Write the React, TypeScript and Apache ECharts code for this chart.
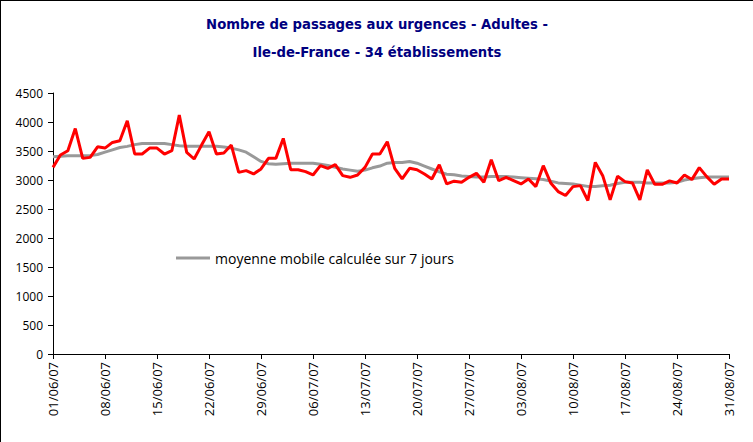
import React, { useEffect, useRef } from "react";
import * as echarts from "echarts";

const title1 = "Nombre de passages aux urgences - Adultes -";
const title2 = "Ile-de-France - 34 établissements";
const legendLabel = "moyenne mobile calculée sur 7 jours";

const startDay = { y: 2007, m: 5, d: 1 };
const dayCount = 92;

const daily: number[] = [
  3218, 3431, 3505, 3888, 3373, 3390, 3573, 3550, 3648, 3677,
  4020, 3448, 3448, 3550, 3550, 3448, 3505, 4118, 3476, 3362,
  3602, 3831, 3448, 3465, 3602, 3132, 3161, 3104, 3190, 3373,
  3373, 3716, 3178, 3178, 3144, 3087, 3247, 3201, 3264, 3075,
  3046, 3087, 3218, 3448, 3448, 3659, 3201, 3018, 3201, 3178,
  3104, 3018, 3264, 2932, 2980, 2960, 3046, 3115, 2960, 3350,
  2989, 3046, 2989, 2932, 3018, 2886, 3247, 2949, 2800, 2732,
  2886, 2903, 2646, 3304, 3075, 2657, 3064, 2972, 2949, 2657,
  3173, 2926, 2926, 2984, 2949, 3087, 3007, 3213, 3058, 2926,
  3018, 3018,
];

const movingAvg: number[] = [
  3400, 3410, 3420, 3420, 3420, 3420, 3440, 3480, 3520, 3560,
  3580, 3610, 3630, 3630, 3630, 3630, 3610, 3590, 3580, 3580,
  3580, 3580, 3580, 3570, 3550, 3520, 3480, 3400, 3320, 3280,
  3270, 3280, 3290, 3290, 3290, 3290, 3270, 3250, 3220, 3190,
  3170, 3150, 3170, 3210, 3240, 3290, 3300, 3300, 3320, 3290,
  3240, 3190, 3140, 3100, 3090, 3070, 3060, 3050, 3050, 3060,
  3060, 3060, 3050, 3040, 3030, 3020, 3010, 2980, 2950, 2940,
  2930, 2910, 2890, 2890, 2900, 2910, 2940, 2960, 2960, 2960,
  2950, 2950, 2950, 2950, 2960, 3000, 3020, 3040, 3050, 3050,
  3050, 3050,
];

const pad = (n: number) => (n < 10 ? "0" + n : "" + n);
const categories: string[] = [];
for (let i = 0; i < dayCount; i++) {
  const dt = new Date(Date.UTC(startDay.y, startDay.m, startDay.d + i));
  categories.push(
    pad(dt.getUTCDate()) + "/" + pad(dt.getUTCMonth() + 1) + "/" + String(dt.getUTCFullYear()).slice(2)
  );
}

export default function App() {
  const ref = useRef<HTMLDivElement>(null);
  useEffect(() => {
    if (!ref.current) return;
    const chart = echarts.init(ref.current, null, { renderer: "svg" });
    chart.setOption({
      animation: false,
      backgroundColor: "#ffffff",
      title: {
        text: title1 + "\n" + title2,
        left: "center",
        top: 3,
        textStyle: {
          fontFamily: "DejaVu Sans Condensed",
          fontSize: 14.7,
          fontWeight: "bold",
          color: "#000080",
          lineHeight: 28,
        },
      },
      legend: {
        left: 170,
        top: 245,
        itemWidth: 34,
        itemHeight: 16,
        itemGap: 6,
        data: [{ name: legendLabel, icon: "path://M0,7 L34,7 L34,10 L0,10 Z" }],
        textStyle: { fontFamily: "Open Sans", fontSize: 14, color: "#000" },
      },
      grid: { left: 52, right: 24, top: 92, bottom: 88, containLabel: false },
      xAxis: {
        type: "category",
        data: categories,
        boundaryGap: false,
        axisLine: { lineStyle: { color: "#000", width: 1 } },
        axisTick: { interval: 6, length: 5, lineStyle: { color: "#000" } },
        axisLabel: {
          interval: 6,
          rotate: 90,
          fontFamily: "Open Sans",
          fontSize: 13,
          color: "#000",
          margin: 8,
        },
        splitLine: { show: false },
      },
      yAxis: {
        type: "value",
        min: 0,
        max: 4500,
        interval: 500,
        axisLine: { show: true, lineStyle: { color: "#000", width: 1 } },
        axisTick: { show: true, length: 5, lineStyle: { color: "#000" } },
        axisLabel: {
          fontFamily: "Open Sans",
          fontSize: 12,
          color: "#000",
          margin: 10,
          formatter: (v: number) => String(v),
        },
        splitLine: { show: false },
      },
      series: [
        {
          name: legendLabel,
          type: "line",
          data: movingAvg,
          symbol: "none",
          lineStyle: { color: "#999999", width: 3 },
          itemStyle: { color: "#999999" },
          z: 2,
        },
        {
          name: "passages",
          type: "line",
          data: daily,
          symbol: "none",
          lineStyle: { color: "#ff0000", width: 3 },
          itemStyle: { color: "#ff0000" },
          z: 3,
        },
      ],
    });
    return () => chart.dispose();
  }, []);
  return (
    <div
      style={{
        position: "absolute",
        left: 0,
        top: 0,
        width: 753,
        height: 442,
        boxSizing: "border-box",
        borderLeft: "1px solid #000",
        borderTop: "1px solid #000",
        background: "#fff",
      }}
    >
      <div ref={ref} style={{ width: 752, height: 441 }} />
    </div>
  );
}
